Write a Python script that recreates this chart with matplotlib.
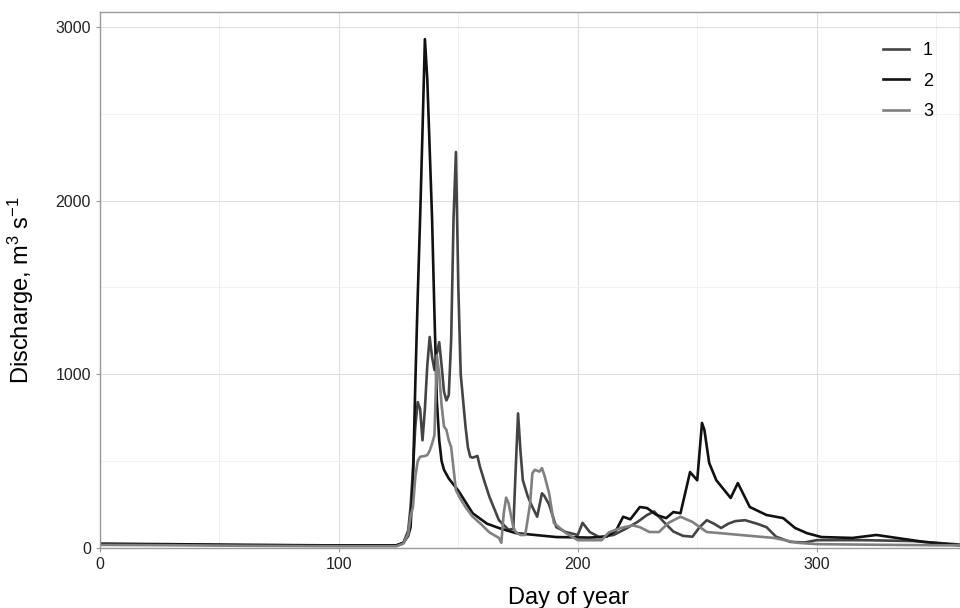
import matplotlib.pyplot as plt
from matplotlib.ticker import MultipleLocator

plt.rcParams['font.family'] = ['Liberation Sans', 'DejaVu Sans']
plt.rcParams['mathtext.default'] = 'regular'

# series 1 (dark grey)
days_1 = [0, 30, 60, 100, 124, 127, 129, 130, 131, 132, 133, 134, 135, 136, 137, 138, 139,
          140, 141, 142, 143, 144, 145, 146, 147, 148, 149, 150, 151, 152, 153, 154, 155,
          156, 158, 159, 161, 163, 167, 171, 173, 174, 175, 176, 177, 179, 181, 183, 185,
          186, 188, 191, 195, 200, 202, 205, 209, 215, 220, 225, 229, 232, 236, 240, 244,
          248, 251, 254, 257, 260, 263, 266, 270, 275, 279, 283, 289, 295, 300, 320, 340, 360]
flow_1 = [22, 20, 17, 14, 14, 30, 100, 236, 450, 700, 840, 800, 620, 800, 1050, 1215, 1100,
          1025, 1120, 1185, 1050, 900, 850, 880, 1200, 1900, 2280, 1500, 1000, 850, 700, 580, 525,
          520, 530, 470, 380, 295, 160, 105, 110, 450, 775, 560, 390, 300, 236, 180, 315,
          300, 250, 120, 92, 75, 145, 92, 63, 75, 110, 150, 190, 210, 150, 95, 70,
          65, 120, 160, 140, 115, 140, 155, 160, 140, 120, 65, 35, 32, 45, 45, 40, 20]

# series 2 (black)
days_2 = [0, 30, 60, 100, 124, 127, 129, 130, 131, 132, 133, 134, 135, 136, 137, 138, 139,
          140, 141, 142, 143, 144, 146, 150, 156, 162, 167, 174, 191, 205, 212, 216, 219,
          222, 226, 229, 233, 237, 240, 243, 247, 250, 252, 253, 255, 258, 264, 267, 272,
          279, 286, 291, 296, 302, 315, 325, 335, 345, 360]
flow_2 = [25, 22, 18, 15, 15, 30, 70, 120, 390, 950, 1450, 1900, 2400, 2930, 2700, 2300, 1900,
          1350, 850, 620, 500, 450, 400, 330, 200, 140, 115, 86, 63, 60, 65, 100, 180,
          165, 236, 230, 190, 172, 207, 200, 437, 390, 720, 680, 490, 390, 288, 374, 236,
          190, 172, 115, 85, 63, 58, 75, 55, 35, 15]

# series 3 (mid grey)
days_3 = [0, 30, 60, 100, 124, 127, 129, 130, 131, 132, 133, 134, 136, 137, 138, 139, 140,
          141, 142, 143, 144, 145, 146, 147, 149, 151, 153, 156, 159, 163, 167, 168, 169,
          170, 171, 173, 174, 176, 178, 180, 181, 182, 184, 185, 186, 188, 190, 195, 200,
          210, 213, 218, 223, 226, 230, 234, 238, 243, 248, 254, 260, 268, 282, 292, 300,
          330, 360]
flow_3 = [18, 16, 13, 10, 10, 25, 80, 180, 236, 410, 500, 525, 530, 535, 560, 600, 650,
          1110, 1000, 820, 700, 680, 620, 580, 333, 280, 236, 180, 144, 90, 58, 30, 200,
          290, 260, 120, 92, 75, 75, 250, 430, 450, 440, 460, 420, 315, 144, 86, 45,
          45, 90, 115, 130, 120, 92, 92, 145, 180, 150, 92, 85, 75, 58, 30, 22,
          18, 15]

labels = ['1', '2', '3']
colours = ['#444444', '#111111', '#808080']

fig = plt.figure(figsize=(9.6, 6.08), dpi=100)
ax = fig.add_axes([100 / 960, 60 / 608, 860 / 960, 536 / 608])

for d, q, lab, col in zip([days_1, days_2, days_3], [flow_1, flow_2, flow_3], labels, colours):
    ax.plot(d, q, color=col, linewidth=1.9, label=lab, solid_joinstyle='round')

ax.set_xlim(0, 360)
ax.set_ylim(0, 3086)
ax.xaxis.set_major_locator(MultipleLocator(100))
ax.xaxis.set_minor_locator(MultipleLocator(50))
ax.yaxis.set_major_locator(MultipleLocator(1000))
ax.yaxis.set_minor_locator(MultipleLocator(500))
ax.grid(which='major', color='#dedede', linewidth=0.8)
ax.grid(which='minor', color='#efefef', linewidth=0.6)
ax.set_axisbelow(True)

for side in ['left', 'top', 'right', 'bottom']:
    ax.spines[side].set_color('#9a9a9a')
    ax.spines[side].set_linewidth(1.0)

ax.tick_params(which='major', length=3, color='#9a9a9a', labelsize=11.5, labelcolor='#222222')
ax.tick_params(which='minor', length=0)

ax.set_xlabel('Day of year', fontsize=17)
ax.set_ylabel('Discharge, m$^3$ s$^{-1}$', fontsize=17)
ax.xaxis.set_label_coords((568 - 100) / 860, -39 / 536)
ax.yaxis.set_label_coords(-64 / 860, (548 - 290) / 536)

ax.legend(loc='upper left', bbox_to_anchor=(867 / 960, 1 - 26 / 608), bbox_transform=fig.transFigure,
          frameon=False, fontsize=13, handlelength=1.4, handletextpad=0.8, labelspacing=0.75)

fig.savefig('out.png', dpi=100)
